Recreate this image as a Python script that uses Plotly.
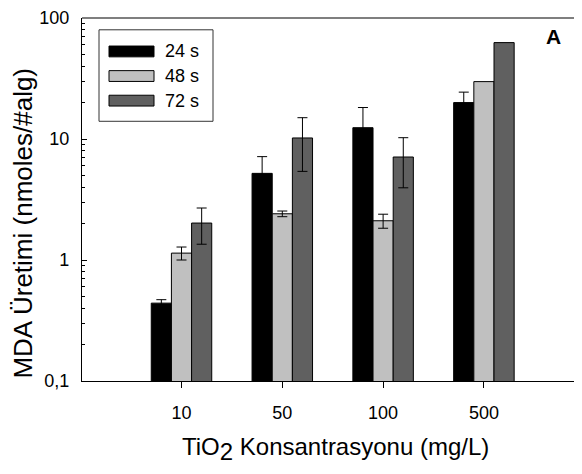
import plotly.graph_objects as go

categories = ["10", "50", "100", "500"]
series_names = ["24 s", "48 s", "72 s"]
values_24 = [0.44, 5.2, 12.4, 20.0]
errors_24 = [0.03, 1.95, 5.8, 4.4]
values_48 = [1.14, 2.41, 2.11, 29.8]
errors_48 = [0.14, 0.13, 0.28, None]
values_72 = [2.02, 10.2, 7.1, 62.6]
errors_72 = [0.67, 4.8, 3.15, None]
y_tickvals = [0.1, 1, 10, 100]
y_ticktext = ["0,1", "1", "10", "100"]
colors = ["#000000", "#c0c0c0", "#606060"]

FONT = "Liberation Sans, Arial, sans-serif"
OFF = 8  # page body margin
W, H = 574, 466
ML, MR, MT, MB = 74, 0, 4, 93

fig = go.Figure()
for name, vals, errs, col in zip(series_names, [values_24, values_48, values_72],
                                 [errors_24, errors_48, errors_72], colors):
    err_arr = ["NaN" if e is None else e for e in errs]  # no error bar where none shown
    fig.add_trace(go.Bar(
        x=categories, y=vals, name=name,
        marker=dict(color=col, line=dict(color="#000000", width=1)),
        error_y=dict(type="data", array=err_arr, symmetric=True, visible=True,
                     color="#000000", thickness=1, width=5),
        showlegend=False,
    ))

# invisible trace for right-side ticks
fig.add_trace(go.Scatter(x=categories, y=values_24, yaxis="y2", mode="none",
                         showlegend=False, hoverinfo="skip"))

fig.update_layout(
    width=W, height=H,
    margin=dict(l=ML, r=MR, t=MT, b=MB),
    paper_bgcolor="white", plot_bgcolor="white",
    barmode="group", bargap=0.4, bargroupgap=0,
    font=dict(family=FONT, color="#000000", size=18),
    xaxis=dict(
        type="category", categoryorder="array", categoryarray=categories,
        range=[-0.987, 3.973],
        showline=True, linecolor="#000000", linewidth=1.2,
        ticks="outside", ticklen=6, tickwidth=1, tickcolor="#000000",
        ticklabelstandoff=9,
        showgrid=False, zeroline=False,
        tickfont=dict(size=18),
    ),
    yaxis=dict(
        type="log", range=[-1, 2],
        tickvals=y_tickvals, ticktext=y_ticktext,
        showline=True, linecolor="#000000", linewidth=1.2,
        ticks="inside", ticklen=5, tickwidth=1, tickcolor="#000000",
        minor=dict(ticks="inside", ticklen=3, tickwidth=1, tickcolor="#000000",
                   dtick="D1", showgrid=False),
        ticklabelstandoff=8, ticklabeloverflow="allow",
        showgrid=False, zeroline=False,
        tickfont=dict(size=18),
    ),
    yaxis2=dict(
        type="log", range=[-1, 2], overlaying="y", side="right",
        tickvals=[1, 10], showticklabels=False,
        ticks="inside", ticklen=3, tickwidth=1, tickcolor="#000000",
        showline=False, showgrid=False, zeroline=False,
    ),
)

# top frame line
fig.add_shape(type="line", xref="paper", yref="paper", x0=0, x1=1, y0=1, y1=1,
              line=dict(color="#000000", width=1.2))

pw = W - ML - MR
ph = H - MT - MB


def px_x(x):
    return (x - OFF - ML) / pw


def px_y(y):
    return (H - MB - (y - OFF)) / ph


# legend box
fig.add_shape(type="rect", xref="paper", yref="paper",
              x0=px_x(99), x1=px_x(213), y0=px_y(117), y1=px_y(24),
              line=dict(color="#333333", width=1), fillcolor="white")
row_y = [46, 71, 96]
for ry, name, col in zip(row_y, series_names, colors):
    fig.add_shape(type="rect", xref="paper", yref="paper",
                  x0=px_x(109), x1=px_x(154), y0=px_y(ry + 5.5), y1=px_y(ry - 5.5),
                  line=dict(color="#000000", width=1), fillcolor=col)
    fig.add_annotation(xref="paper", yref="paper", x=px_x(163), y=px_y(ry),
                       xanchor="left", yanchor="middle", showarrow=False,
                       text=name, font=dict(size=18, family=FONT))

# panel letter
fig.add_annotation(xref="paper", yref="paper", x=px_x(553), y=px_y(31),
                   xanchor="center", yanchor="middle", showarrow=False,
                   text="<b>A</b>", font=dict(size=21, family=FONT))

# axis titles
fig.add_annotation(xref="paper", yref="paper", x=px_x(335), y=px_y(450),
                   xanchor="center", yanchor="middle", showarrow=False,
                   text="TiO<sub><span style='font-size:24px'>2</span></sub> Konsantrasyonu (mg/L)",
                   font=dict(size=24, family=FONT))
fig.add_annotation(xref="paper", yref="paper", x=px_x(23), y=px_y(221),
                   xanchor="center", yanchor="middle", showarrow=False,
                   textangle=-90,
                   text="MDA Üretimi (nmoles/#alg)",
                   font=dict(size=26, family=FONT))

fig.write_html("out.html")
